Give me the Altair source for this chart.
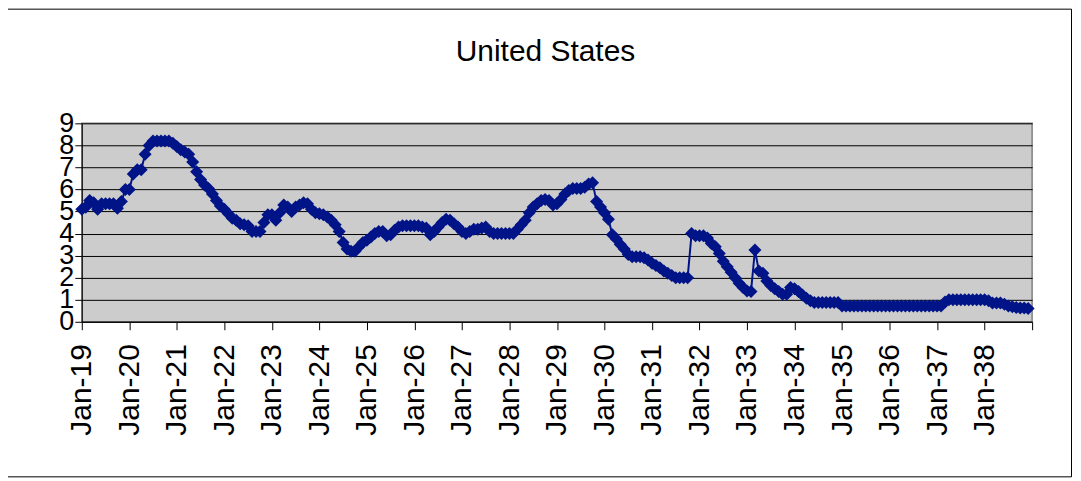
import json
import altair as alt
import pandas as pd

title_text = "United States"

y1919 = [5.1, 5.2, 5.5, 5.4, 5.1, 5.35, 5.35, 5.35, 5.35, 5.15, 5.45, 6.0]
y1920 = [6.0, 6.7, 6.9, 6.9, 7.6, 8.0, 8.2, 8.2, 8.2, 8.2, 8.2, 8.1]
y1921 = [7.95, 7.8, 7.7, 7.6, 7.25, 6.8, 6.45, 6.2, 6.05, 5.8, 5.5, 5.25]
y1922 = [5.1, 4.9, 4.7, 4.6, 4.45, 4.4, 4.35, 4.1, 4.1, 4.1, 4.5, 4.85]
y1923 = [4.85, 4.6, 4.95, 5.3, 5.2, 5.0, 5.2, 5.3, 5.4, 5.35, 5.1, 4.95]
y1924 = [4.9, 4.85, 4.75, 4.6, 4.4, 4.1, 3.6, 3.3, 3.2, 3.2, 3.4, 3.6]
y1925 = [3.7, 3.85, 4.0, 4.1, 4.1, 3.9, 3.95, 4.15, 4.3, 4.35, 4.35, 4.35]
y1926 = [4.35, 4.35, 4.3, 4.25, 3.95, 4.1, 4.3, 4.5, 4.65, 4.6, 4.45, 4.3]
y1927 = [4.1, 4.0, 4.1, 4.2, 4.2, 4.25, 4.3, 4.1, 4.0, 4.0, 4.0, 4.0]
y1928 = [4.0, 4.0, 4.2, 4.4, 4.6, 4.95, 5.2, 5.35, 5.5, 5.55, 5.5, 5.3]
y1929 = [5.35, 5.55, 5.8, 5.95, 6.05, 6.05, 6.05, 6.1, 6.25, 6.3, 5.45, 5.2]
y1930 = [4.95, 4.65, 3.95, 3.75, 3.5, 3.3, 3.05, 2.95, 2.95, 2.95, 2.9, 2.8]
y1931 = [2.65, 2.55, 2.45, 2.3, 2.2, 2.1, 2.0, 2.0, 2.0, 2.0, 4.0, 3.9]
y1932 = [3.9, 3.9, 3.8, 3.55, 3.4, 3.1, 2.75, 2.5, 2.25, 2.0, 1.75, 1.55]
y1933 = [1.4, 1.37, 3.25, 2.3, 2.2, 1.85, 1.65, 1.5, 1.37, 1.25, 1.25, 1.55]
y1934 = [1.5, 1.37, 1.22, 1.07, 0.95, 0.87, 0.87, 0.87, 0.87, 0.87, 0.87, 0.87]
y1935 = [0.72, 0.72, 0.72, 0.72, 0.72, 0.72, 0.72, 0.72, 0.72, 0.72, 0.72, 0.72]
y1936 = [0.72, 0.72, 0.72, 0.72, 0.72, 0.72, 0.72, 0.72, 0.72, 0.72, 0.72, 0.72]
y1937 = [0.72, 0.72, 0.9, 1.0, 1.0, 1.0, 1.0, 1.0, 1.0, 1.0, 1.0, 1.0]
y1938 = [1.0, 0.95, 0.85, 0.85, 0.85, 0.8, 0.72, 0.68, 0.65, 0.63, 0.62, 0.6]

years = [y1919, y1920, y1921, y1922, y1923, y1924, y1925, y1926, y1927, y1928,
         y1929, y1930, y1931, y1932, y1933, y1934, y1935, y1936, y1937, y1938]
values = [v for yr in years for v in yr]

tick_labels = ["Jan-19", "Jan-20", "Jan-21", "Jan-22", "Jan-23", "Jan-24", "Jan-25",
               "Jan-26", "Jan-27", "Jan-28", "Jan-29", "Jan-30", "Jan-31", "Jan-32",
               "Jan-33", "Jan-34", "Jan-35", "Jan-36", "Jan-37", "Jan-38", ""]
y_ticks = [0, 1, 2, 3, 4, 5, 6, 7, 8, 9]

df = pd.DataFrame({"month": list(range(len(values))), "value": values})

FONT = "Liberation Sans"
NAVY = "#001488"
W, H = 953, 199

x_enc = alt.X(
    "month:Q",
    scale=alt.Scale(domain=[0, 240], nice=False, zero=False),
    axis=alt.Axis(
        values=list(range(0, 241, 12)),
        labelExpr=json.dumps(tick_labels) + "[round(datum.value / 12)]",
        labelAngle=-90,
        labelAlign="right",
        labelBaseline="middle",
        labelFont=FONT,
        labelFontSize=30,
        labelColor="black",
        labelPadding=14,
        tickSize=8,
        tickColor="black",
        domainColor="black",
        grid=False,
        title=None,
        labelOverlap=False,
    ),
)
y_enc = alt.Y(
    "value:Q",
    scale=alt.Scale(domain=[0, 9], nice=False),
    axis=alt.Axis(
        values=y_ticks,
        labelFont=FONT,
        labelFontSize=27,
        labelColor="black",
        labelPadding=1,
        labelBaseline="middle",
        tickSize=7,
        tickColor="black",
        domainColor="black",
        grid=True,
        gridColor="black",
        gridWidth=1,
        gridOpacity=1,
        title=None,
        labelOverlap=False,
        labelBound=False,
        labelFlush=False,
    ),
)

base = alt.Chart(df).encode(x=x_enc, y=y_enc)
line = base.mark_line(color=NAVY, strokeWidth=2)
pts = base.mark_point(shape="diamond", filled=True, size=170, color=NAVY, opacity=1)

one = pd.DataFrame({"t": [title_text]})
title = alt.Chart(one).mark_text(
    font=FONT, fontSize=30, color="black", align="center", baseline="alphabetic"
).encode(x=alt.value(465), y=alt.value(-63), text="t:N")

frame = alt.Chart(one).mark_rect(
    fill="transparent", stroke="black", strokeWidth=1
).encode(
    x=alt.value(-76.5), x2=alt.value(992.5), y=alt.value(-114.5), y2=alt.value(354.5)
)

chart = alt.layer(line, pts, title, frame).properties(
    width=W, height=H,
    autosize=alt.AutoSizeParams(type="none"),
    padding={"left": 74, "top": 115, "right": 41, "bottom": 157},
    background="white",
).configure_view(
    fill="#CCCCCC", stroke="#808080", strokeWidth=1.5
)

chart.save("out.html", embed_options={"renderer": "svg", "actions": False})
